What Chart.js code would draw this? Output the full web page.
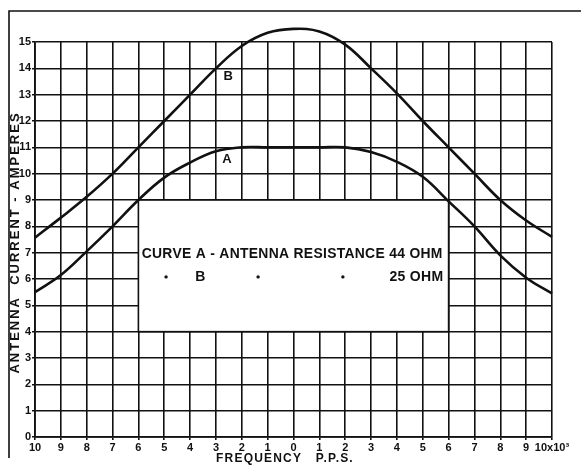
<!DOCTYPE html>
<html>
<head>
<meta charset="utf-8">
<script src="https://cdn.jsdelivr.net/npm/chart.js@4.4.0/dist/chart.umd.min.js"></script>
<style>
  html, body { margin: 0; padding: 0; background: #fff; }
  #wrap { width: 581px; height: 465px; }
</style>
</head>
<body>
<div id="wrap"><canvas id="chart" width="581" height="465"></canvas></div>
<script>
// frequency in thousands of p.p.s. (negative = left of resonance)
const freqValues = [-10, -9, -8, -7, -6, -5, -4, -3, -2, -1, 0, 1, 2, 3, 4, 5, 6, 7, 8, 9, 10];
const freqLabels = ['10', '9', '8', '7', '6', '5', '4', '3', '2', '1', '0',
  '1', '2', '3', '4', '5', '6', '7', '8', '9', '10x10\u00B3'];

// antenna current, amperes
const curveA = [5.5, 6.15, 7.05, 8.0, 9.0, 9.85, 10.42, 10.85, 11.0, 11.0, 11.0,
  11.0, 11.0, 10.82, 10.45, 9.88, 8.95, 8.0, 6.9, 6.05, 5.45];
const curveB = [7.57, 8.33, 9.12, 10.0, 11.0, 12.0, 13.0, 14.0, 14.85, 15.35, 15.5,
  15.4, 14.9, 14.0, 13.05, 12.0, 11.0, 10.0, 9.0, 8.22, 7.6];

const yTitle = 'ANTENNA  CURRENT - AMPERES';
const xTitle = 'FREQUENCY   P.P.S.';
const legendLine1 = 'CURVE A - ANTENNA RESISTANCE 44 OHM';
const legendLine2 = ['B', '25 OHM'];

const ink = '#111';
const family = '"Liberation Sans", "DejaVu Sans", sans-serif';
const bold = (size) => 'bold ' + size + 'px ' + family;

const toPoints = (ys) => freqValues.map((x, i) => ({ x: x, y: ys[i] }));

// fond blanc, cadre, titres, encart de légende et repères des courbes
const paperPlugin = {
  id: 'paper',
  beforeDraw(chart) {
    const ctx = chart.ctx;
    ctx.save();
    ctx.fillStyle = '#fff';
    ctx.fillRect(0, 0, chart.width, chart.height);
    ctx.strokeStyle = ink;
    ctx.lineWidth = 1.6;
    ctx.beginPath();
    ctx.moveTo(9, 458);
    ctx.lineTo(9, 11);
    ctx.lineTo(chart.width, 11);
    ctx.stroke();

    // y axis title, written bottom to top
    const ca = chart.chartArea;
    ctx.fillStyle = ink;
    ctx.font = bold(13);
    ctx.letterSpacing = '2px';
    ctx.textAlign = 'center';
    ctx.textBaseline = 'middle';
    ctx.translate(15, (ca.top + ca.bottom) / 2 + 3);
    ctx.rotate(-Math.PI / 2);
    ctx.fillText(yTitle, 0, 0);
    ctx.restore();
  },
  beforeDatasetsDraw(chart) {
    const ctx = chart.ctx;
    const xs = chart.scales.x;
    const ys = chart.scales.y;
    const l = xs.getPixelForValue(-6), r = xs.getPixelForValue(6);
    const t = ys.getPixelForValue(9), b = ys.getPixelForValue(4);
    ctx.save();
    ctx.fillStyle = '#fff';
    ctx.fillRect(l, t, r - l, b - t);
    ctx.strokeStyle = ink;
    ctx.lineWidth = 1.6;
    ctx.strokeRect(l, t, r - l, b - t);

    ctx.fillStyle = ink;
    ctx.textBaseline = 'middle';
    ctx.font = bold(14);
    ctx.letterSpacing = '0.3px';
    ctx.textAlign = 'center';
    const y1 = ys.getPixelForValue(6.95);
    ctx.fillText(legendLine1, xs.getPixelForValue(-0.05), y1, 301);

    const y2 = ys.getPixelForValue(6.08);
    ctx.fillText(legendLine2[0], xs.getPixelForValue(-3.6), y2);
    ctx.textAlign = 'right';
    ctx.fillText(legendLine2[1], xs.getPixelForValue(5.8), y2);
    // ditto marks
    [-4.93, -1.37, 1.91].forEach((v) => {
      ctx.beginPath();
      ctx.arc(xs.getPixelForValue(v), y2, 1.7, 0, Math.PI * 2);
      ctx.fill();
    });
    ctx.restore();
  },
  afterDatasetsDraw(chart) {
    const ctx = chart.ctx;
    const xs = chart.scales.x;
    const ys = chart.scales.y;
    ctx.save();
    ctx.fillStyle = ink;
    ctx.font = bold(13);
    ctx.textAlign = 'center';
    ctx.textBaseline = 'middle';
    ctx.fillText('B', xs.getPixelForValue(-2.53), ys.getPixelForValue(13.69));
    ctx.fillText('A', xs.getPixelForValue(-2.57), ys.getPixelForValue(10.53));
    // x axis title
    ctx.font = bold(12);
    ctx.letterSpacing = '1.2px';
    ctx.fillText(xTitle, xs.getPixelForValue(-0.33), 459, 138);
    ctx.restore();
  },
};

new Chart(document.getElementById('chart'), {
  type: 'line',
  data: {
    datasets: [
      {
        label: 'A',
        data: toPoints(curveA),
        borderColor: ink,
        borderWidth: 2.6,
        pointRadius: 0,
        tension: 0.4,
        clip: false,
      },
      {
        label: 'B',
        data: toPoints(curveB),
        borderColor: ink,
        borderWidth: 2.6,
        pointRadius: 0,
        tension: 0.4,
        clip: false,
      },
    ],
  },
  options: {
    responsive: false,
    animation: false,
    layout: {
      padding: { top: 42, right: 29, left: 0, bottom: 0 },
    },
    plugins: {
      legend: { display: false },
      tooltip: { enabled: false },
    },
    scales: {
      x: {
        type: 'linear',
        min: -10,
        max: 10,
        afterFit: (scale) => { scale.height = 28; },
        grid: { color: ink, lineWidth: 1.6, tickLength: 3 },
        border: { color: ink, width: 1.8 },
        ticks: {
          stepSize: 1,
          padding: 1,
          maxRotation: 0,
          autoSkip: false,
          color: ink,
          font: { family: family, size: 11, weight: 'bold' },
          callback: (v) => freqLabels[freqValues.indexOf(v)],
        },
      },
      y: {
        min: 0,
        max: 15,
        afterFit: (scale) => { scale.width = 35; },
        grid: { color: ink, lineWidth: 1.6, tickLength: 3 },
        border: { color: ink, width: 1.8 },
        ticks: {
          stepSize: 1,
          padding: 1,
          color: ink,
          font: { family: family, size: 11, weight: 'bold' },
        },
      },
    },
  },
  plugins: [paperPlugin],
});
</script>
</body>
</html>
